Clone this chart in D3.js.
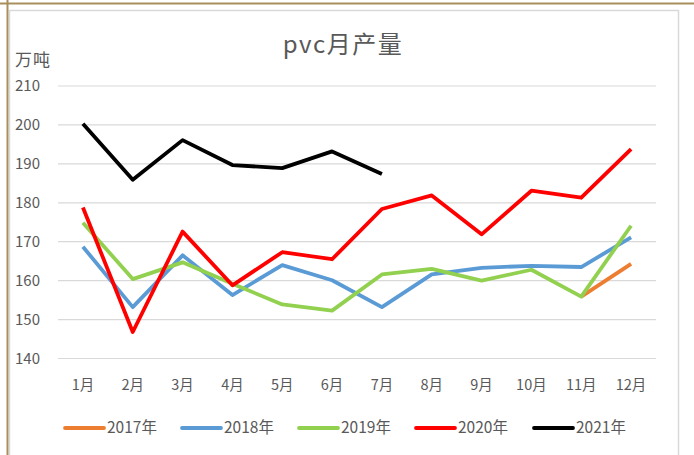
<!DOCTYPE html>
<html>
<head>
<meta charset="utf-8">
<script src="https://cdn.jsdelivr.net/npm/d3@7"></script>
<style>
  body { margin: 0; background: #fff; }
  svg { display: block; font-family: "Noto Sans CJK SC", "Noto Sans", sans-serif; }
</style>
</head>
<body>
<svg id="chart"></svg>
<script>
(function() {
  var width = 694;
  var height = 455;

  // 月份
  var months = ['1月', '2月', '3月', '4月', '5月', '6月', '7月', '8月', '9月', '10月', '11月', '12月'];
  var yTicks = [140, 150, 160, 170, 180, 190, 200, 210];

  // 各年产量（万吨）
  var y2017 = [null, null, null, null, null, null, null, null, null, null, 155.9, 164.3];
  var y2018 = [168.7, 153.2, 166.5, 156.3, 164.0, 160.1, 153.2, 161.6, 163.3, 163.8, 163.5, 171.1];
  var y2019 = [174.9, 160.4, 164.7, 159.2, 153.9, 152.3, 161.6, 163.0, 160.0, 162.8, 155.9, 174.1];
  var y2020 = [178.8, 146.8, 172.6, 158.8, 167.3, 165.5, 178.4, 181.9, 171.9, 183.1, 181.3, 193.8];
  var y2021 = [200.3, 185.9, 196.1, 189.7, 188.9, 193.2, 187.4];

  var seriesNames = ['2017年', '2018年', '2019年', '2020年', '2021年'];
  var seriesColors = ['#ED7D31', '#5B9BD5', '#92D050', '#FF0000', '#000000'];
  var seriesValues = [y2017, y2018, y2019, y2020, y2021];

  var svg = d3.select('#chart')
    .attr('width', width)
    .attr('height', height);

  // 外框
  svg.append('rect')
    .attr('x', 9.5).attr('y', 10.5)
    .attr('width', 669).attr('height', 460)
    .attr('fill', '#fff')
    .attr('stroke', '#d9d9d9')
    .attr('stroke-width', 1.5);

  svg.append('line')
    .attr('x1', 0).attr('x2', width)
    .attr('y1', 3.5).attr('y2', 3.5)
    .attr('stroke', '#A88F5C').attr('stroke-width', 2);
  svg.append('line')
    .attr('x1', 7.5).attr('x2', 7.5)
    .attr('y1', 0).attr('y2', height)
    .attr('stroke', '#A88F5C').attr('stroke-width', 2);

  var x = d3.scaleBand()
    .domain(months)
    .range([58, 656]);

  var y = d3.scaleLinear()
    .domain([140, 210])
    .range([358.5, 86]);

  // 网格
  svg.append('g')
    .selectAll('line')
    .data(yTicks)
    .enter()
    .append('line')
    .attr('x1', 58)
    .attr('x2', 656)
    .attr('y1', function(d) { return y(d); })
    .attr('y2', function(d) { return y(d); })
    .attr('stroke', '#d9d9d9')
    .attr('stroke-width', 1.2);

  // y轴文字
  svg.append('g')
    .selectAll('text')
    .data(yTicks)
    .enter()
    .append('text')
    .attr('x', 15)
    .attr('y', function(d) { return y(d); })
    .attr('dy', '0.35em')
    .attr('fill', '#595959')
    .attr('font-size', 15)
    .text(function(d) { return d; });

  // x轴文字
  svg.append('g')
    .selectAll('text')
    .data(months)
    .enter()
    .append('text')
    .attr('x', function(d) { return x(d) + x.bandwidth() / 2; })
    .attr('y', 385)
    .attr('dy', '0.35em')
    .attr('text-anchor', 'middle')
    .attr('fill', '#595959')
    .attr('font-size', 14.5)
    .text(function(d) { return d; });

  // 标题
  svg.append('text')
    .attr('x', 343)
    .attr('y', 45)
    .attr('dy', '0.35em')
    .attr('text-anchor', 'middle')
    .attr('fill', '#595959')
    .attr('font-size', 24)
    .attr('letter-spacing', 1.5)
    .text('pvc月产量');

  svg.append('text')
    .attr('x', 15)
    .attr('y', 60)
    .attr('dy', '0.35em')
    .attr('fill', '#595959')
    .attr('font-size', 17)
    .attr('letter-spacing', 1)
    .text('万吨');

  // 折线
  var line = d3.line()
    .defined(function(d) { return d != null; })
    .x(function(d, i) { return x(months[i]) + x.bandwidth() / 2; })
    .y(function(d) { return y(d); });

  seriesValues.forEach(function(vals, k) {
    svg.append('path')
      .datum(vals)
      .attr('fill', 'none')
      .attr('stroke', seriesColors[k])
      .attr('stroke-width', 3.8)
      .attr('stroke-linejoin', 'round')
      .attr('d', line);
  });

  // 图例
  var legendX = [64, 181, 298, 415, 533];
  var lg = svg.append('g')
    .selectAll('g')
    .data(seriesNames)
    .enter()
    .append('g')
    .attr('transform', function(d, i) { return 'translate(' + legendX[i] + ',428)'; });

  lg.append('line')
    .attr('x1', 1).attr('x2', 40)
    .attr('y1', 0).attr('y2', 0)
    .attr('stroke', function(d, i) { return seriesColors[i]; })
    .attr('stroke-width', 3.8)
    .attr('stroke-linecap', 'round');

  lg.append('text')
    .attr('x', 43)
    .attr('y', 0)
    .attr('dy', '0.35em')
    .attr('fill', '#595959')
    .attr('font-size', 15.5)
    .text(function(d) { return d; });
}());
</script>
</body>
</html>
